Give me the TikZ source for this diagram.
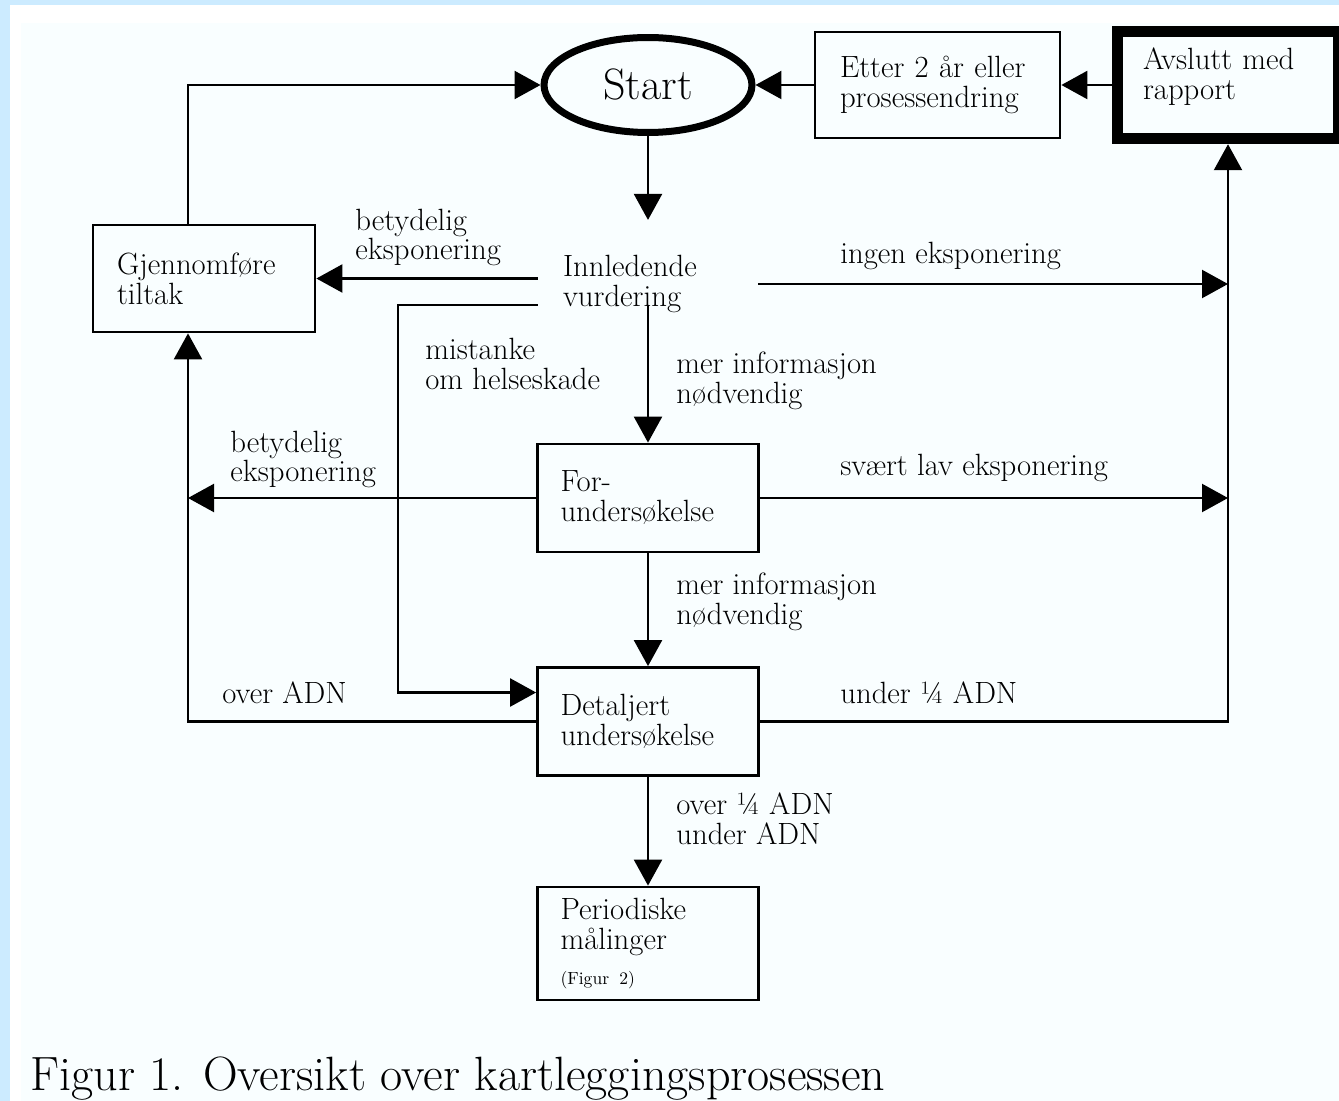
\documentclass[tikz,border=0pt]{standalone}
\usetikzlibrary{arrows.meta,shapes.geometric}
\definecolor{frameblue}{RGB}{204,235,255}
\definecolor{paperblue}{RGB}{249,254,255}
\newcommand{\flowfont}{\fontsize{17.5}{17}\selectfont}

\begin{document}
\begin{tikzpicture}[x=0.02cm,y=-0.02cm,
  box/.style={draw,rectangle,line width=1.6pt,align=left,text width=3.5cm,inner xsep=0.46cm,minimum height=2.16cm,font=\flowfont},
  lbl/.style={align=left,inner sep=0pt,anchor=west,font=\flowfont},
  arr/.style={line width=1.3pt,-{Triangle[length=0.52cm,width=0.56cm]}}]
\useasboundingbox (0,0) rectangle (1339,1101);
\fill[frameblue] (0,0) rectangle (1339,1101);
\fill[white] (10,5) rectangle (1339,1101);
\fill[paperblue] (21,23) rectangle (1339,1101);

\node[draw,ellipse,line width=0.14cm,minimum width=4.16cm,minimum height=1.9cm,inner sep=0pt,font=\fontsize{25}{25}\selectfont] (start) at (648,85) {Start};
\node[box,text width=3.9cm,inner xsep=0.5cm,minimum height=2.12cm] (etter) at (937.5,85) {Etter 2 år eller\\prosessendring};
\node[box,line width=0.22cm,text width=3.4cm,inner xsep=0.51cm,minimum height=2.15cm,text depth=1.05cm] (avslutt) at (1228,85) {Avslutt med\\rapport};
\node[box,text width=3.48cm,inner xsep=0.48cm,minimum height=2.14cm] (gjennom) at (204,278.5) {Gjennomføre\\tiltak};
\node[lbl,anchor=center,text width=3.4cm,inner xsep=0.5cm,inner ysep=0.7cm] (innled) at (648,284) {Innledende\\vurdering};
\node[box] (forund) at (648,498) {For-\\undersøkelse};
\node[box] (detalj) at (648,721.5) {Detaljert\\undersøkelse};
\node[box,minimum height=2.26cm] (period) at (648,943.5) {Periodiske\\målinger\\[0.1cm]{\fontsize{10}{12}\selectfont(Figur~2)}};
\coordinate (gjbot) at ([xshift=-0.32cm]gjennom.south);

\draw[arr] (avslutt.west) -- (etter.east);
\draw[arr] (etter.west) -- (start.east);
\draw[arr] (start.south) -- (innled.north);
\draw[arr] ([xshift=-0.32cm]gjennom.north) |- (start.west);
\draw[arr] (innled.west |- gjennom.east) -- (gjennom.east);
\draw[arr] (innled.east) -- (innled.east -| avslutt.south);
\draw[arr] ([yshift=-0.42cm]innled.center) -- (forund.north);
\draw[arr] ([yshift=-0.42cm]innled.west) -- ++(-140,0) |- ([yshift=0.58cm]detalj.west);
\draw[arr] (forund.west) -- (forund.west -| gjbot);
\draw[arr] (forund.east) -- (forund.east -| avslutt.south);
\draw[arr] (forund.south) -- (detalj.north);
\draw[arr] (detalj.west) -| (gjbot);
\draw[arr] (detalj.east) -| (avslutt.south);
\draw[arr] (detalj.south) -- (period.north);

\node[lbl] (lbetyd1) at (355,237.5) {betydelig\\eksponering};
\node[lbl] (lingen) at (840,256) {ingen eksponering};
\node[lbl] (lmist) at (425,364) {mistanke\\om helseskade};
\node[lbl] (lmer1) at (676,381) {mer informasjon\\nødvendig};
\node[lbl] (lbetyd2) at (230,459.5) {betydelig\\eksponering};
\node[lbl] (lsvaert) at (840,468) {svært lav eksponering};
\node[lbl] (lmer2) at (676,602) {mer informasjon\\nødvendig};
\node[lbl] (lover) at (222,693) {over ADN};
\node[lbl] (lunder) at (840,693) {under ¼ ADN};
\node[lbl] (lkvart) at (676,818.5) {over ¼ ADN\\under ADN};
\node[lbl,anchor=base west,font=\fontsize{27.4}{27.4}\selectfont] (caption) at (30,1090) {Figur 1. Oversikt over kartleggingsprosessen};
\end{tikzpicture}
\end{document}
